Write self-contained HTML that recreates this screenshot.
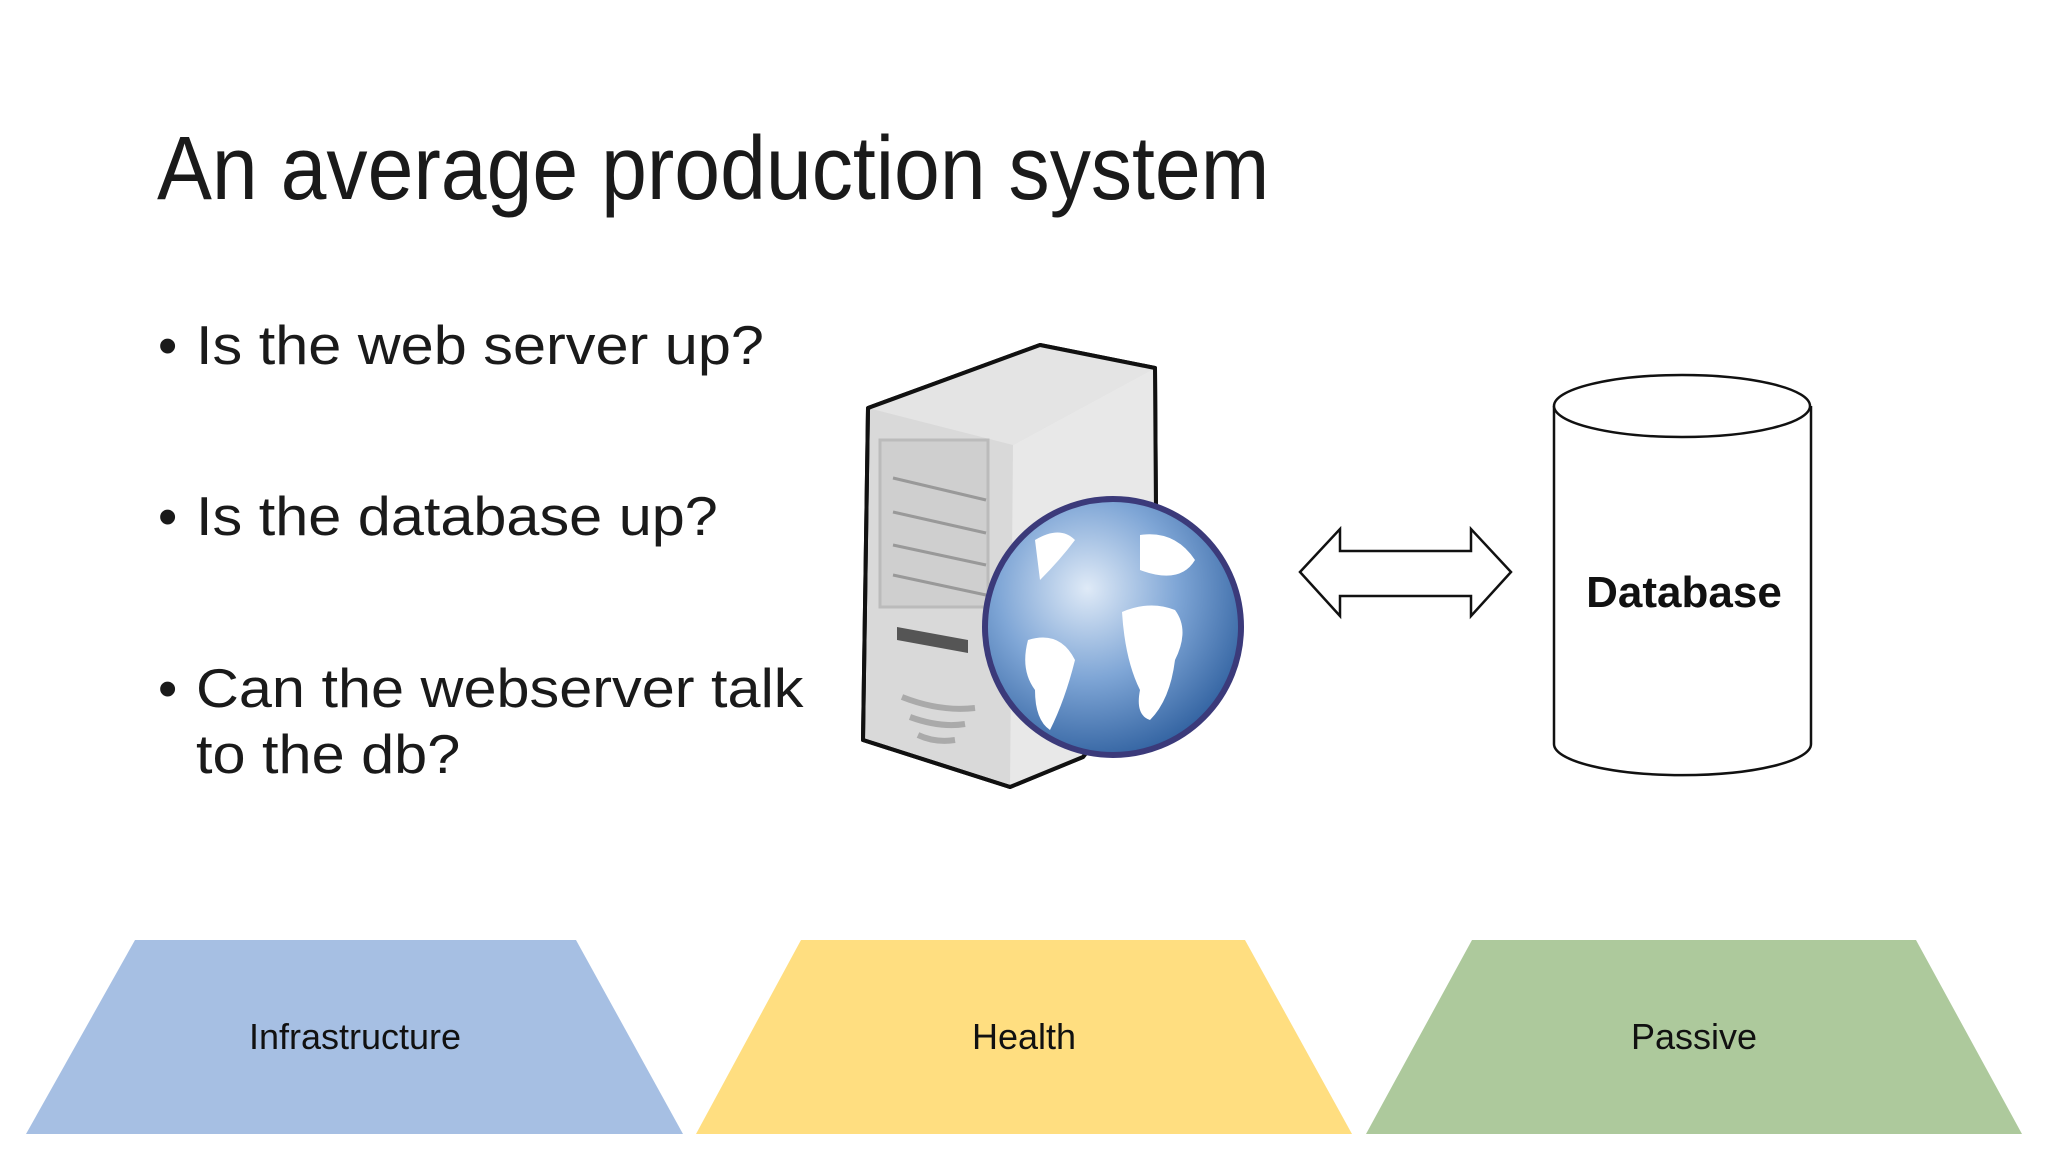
<!DOCTYPE html>
<html><head><meta charset="utf-8"><style>
body{margin:0;width:2048px;height:1152px;background:#fff;overflow:hidden;position:relative;font-family:"Liberation Sans",sans-serif;color:#1a1a1a}
.t{position:absolute;white-space:nowrap}
.b{font-size:55px;transform:scaleX(1.08);transform-origin:left top}
</style></head><body>
<div class="t" style="left:157px;top:118px;font-size:90px;transform:scaleX(0.915);transform-origin:left top;">An average production system</div>
<div class="t" style="left:158px;top:313px;font-size:55px;">•</div>
<div class="t b" style="left:196px;top:313px;">Is the web server up?</div>
<div class="t" style="left:158px;top:484px;font-size:55px;">•</div>
<div class="t b" style="left:196px;top:484px;">Is the database up?</div>
<div class="t" style="left:158px;top:656px;font-size:55px;">•</div>
<div class="t b" style="left:196px;top:656px;">Can the webserver talk</div>
<div class="t b" style="left:196px;top:722px;">to the db?</div>
<svg width="2048" height="1152" style="position:absolute;left:0;top:0">
<defs>
<radialGradient id="g" cx="0.4" cy="0.35" r="0.7"><stop offset="0" stop-color="#dfeaf7"/><stop offset="0.5" stop-color="#7fa6d6"/><stop offset="1" stop-color="#2e5f9e"/></radialGradient>
</defs>
<path d="M868,408 L1040,345 L1155,368 L1157,663 L1083,757 L1010,787 L863,740 Z" fill="#d9d9d9" stroke="#111" stroke-width="4" stroke-linejoin="round"/>
<path d="M868,408 L1040,345 L1155,368 L1013,445 Z" fill="#e4e4e4"/>
<path d="M1013,445 L1155,368 L1157,663 L1083,757 L1010,787 Z" fill="#e8e8e8"/>
<path d="M868,408 L1040,345 L1155,368 L1157,663 L1083,757 L1010,787 L863,740 Z" fill="none" stroke="#111" stroke-width="4" stroke-linejoin="round"/>
<rect x="880" y="440" width="108" height="167" fill="#cfcfcf" stroke="#bbb" stroke-width="3"/>
<g stroke="#999" stroke-width="3"><line x1="893" y1="478" x2="986" y2="500"/><line x1="893" y1="512" x2="986" y2="533"/><line x1="893" y1="545" x2="986" y2="565"/><line x1="893" y1="575" x2="986" y2="595"/></g>
<path d="M897,627 L968,640 L968,653 L897,640 Z" fill="#555"/>
<g stroke="#aaa" stroke-width="6" fill="none"><path d="M902,697 Q940,712 975,708"/><path d="M910,717 Q940,728 965,724"/><path d="M918,735 Q935,743 955,740"/></g>
<circle cx="1113" cy="627" r="128" fill="url(#g)" stroke="#3b3a7a" stroke-width="6"/>
<g fill="#fff"><path d="M1122,612 Q1150,600 1175,610 Q1190,630 1175,660 Q1170,700 1150,720 Q1135,715 1140,690 Q1125,660 1122,612 Z"/>
<path d="M1028,640 Q1060,630 1075,660 Q1065,700 1050,730 Q1035,720 1035,690 Q1020,670 1028,640 Z"/>
<path d="M1140,535 Q1175,530 1195,560 Q1180,585 1140,570 Z"/>
<path d="M1035,540 Q1060,525 1075,540 Q1060,560 1040,580 Z"/></g>
<polygon points="1300,572 1340,529 1340,551 1471,551 1471,529 1511,572 1471,616 1471,596 1340,596 1340,616" fill="#fff" stroke="#111" stroke-width="2.5"/>
<path d="M1554,406 L1554,744 A128,31 0 0 0 1811,744 L1811,406" fill="#fff" stroke="#111" stroke-width="2.5"/>
<ellipse cx="1682" cy="406" rx="128" ry="31" fill="#fff" stroke="#111" stroke-width="2.5"/>
<text x="1684" y="607" font-size="44" font-weight="bold" text-anchor="middle" fill="#111" font-family="Liberation Sans,sans-serif">Database</text>
<polygon points="135,940 576,940 683,1134 26,1134" fill="#A6BFE3"/>
<polygon points="801,940 1245,940 1352,1134 696,1134" fill="#FFDE80"/>
<polygon points="1472,940 1916,940 2022,1134 1366,1134" fill="#ADC99C"/>
<g font-size="36" text-anchor="middle" fill="#111" font-family="Liberation Sans,sans-serif">
<text x="355" y="1049">Infrastructure</text><text x="1024" y="1049">Health</text><text x="1694" y="1049">Passive</text></g>
</svg>
</body></html>
